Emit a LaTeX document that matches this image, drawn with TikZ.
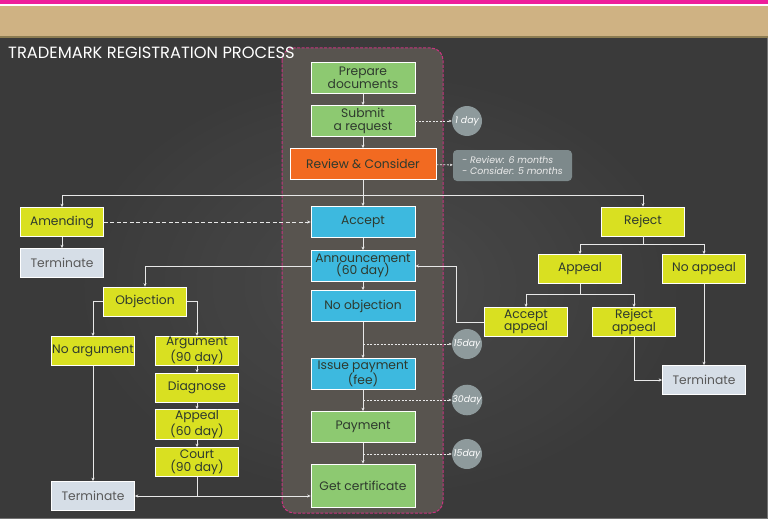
\documentclass[tikz,border=0pt]{standalone}
\usepackage{fontspec}
\setmainfont{Poppins}
\usetikzlibrary{arrows.meta,shadings}

\definecolor{bandpink}{HTML}{EE1E9B}
\definecolor{bandtan}{HTML}{CFB283}
\definecolor{bandrule}{HTML}{8C7C52}
\definecolor{board}{HTML}{3A3A3A}
\definecolor{boardlight}{HTML}{4E4E4E}
\definecolor{lane}{HTML}{58544F}
\definecolor{laneedge}{HTML}{C8337F}
\definecolor{boxgreen}{HTML}{8DC971}
\definecolor{boxorange}{HTML}{F26A21}
\definecolor{boxblue}{HTML}{3DB9DF}
\definecolor{boxyellow}{HTML}{D9E021}
\definecolor{boxgrey}{HTML}{D6DEE7}
\definecolor{boxtext}{HTML}{2E3A2E}
\definecolor{dotgrey}{HTML}{8E9A9C}
\definecolor{notegrey}{HTML}{7D898B}
\definecolor{linkwhite}{HTML}{E8E8E8}

\tikzset{
  box/.style={draw=white, line width=0.7pt, minimum width=83pt, minimum height=29pt,
    inner sep=1pt, align=center, text=boxtext, font=\fontsize{12.3}{12.5}\selectfont},
  widebox/.style={box, minimum width=104pt, minimum height=31pt},
  greenbox/.style={widebox, fill=boxgreen},
  bluebox/.style={widebox, fill=boxblue},
  yellowbox/.style={box, fill=boxyellow},
  endbox/.style={box, fill=boxgrey, text=black!65},
  daydot/.style={circle, fill=dotgrey, minimum size=30pt, inner sep=0pt, text=white,
    font=\fontsize{9.3}{9}\selectfont\itshape},
  link/.style={-{Stealth[length=3.5pt,width=3pt]}, draw=linkwhite, line width=0.8pt},
  timelink/.style={-{Stealth[length=3pt,width=2.5pt]}, draw=linkwhite, line width=0.8pt,
    dash pattern=on 2pt off 1.5pt},
  amendlink/.style={link, dash pattern=on 4pt off 2.5pt},
}

\begin{document}
\begin{tikzpicture}[x=1pt, y=-1pt]
\def \midx {363}
\def \dayx {467}

%Background and top bands
\useasboundingbox (0,0) rectangle (768,519);
\fill[board] (0,38) rectangle (768,519);
\shade[inner color=boardlight, outer color=board, opacity=0.8] (60,60) rectangle (700,510);
\draw[black!55, line width=1pt] (0,518) -- (768,518);
\draw[black!55, line width=1pt] (767,38) -- (767,519);
\fill[bandpink] (0,0) rectangle (768,4);
\fill[white] (0,4) rectangle (768,6);
\fill[bandtan] (0,6) rectangle (768,36);
\fill[bandrule] (0,36) rectangle (768,38.5);

%Main lane
\draw[fill=lane, draw=laneedge, line width=1pt, dash pattern=on 3pt off 1.5pt, rounded corners=12pt] (282,48) rectangle (443,513);

%Title
\node[anchor=west, text=white, font=\fontsize{16.3}{17}\selectfont, inner sep=0pt] (title) at (8,53) {TRADEMARK REGISTRATION PROCESS};

%Main column
\node[greenbox] (prep) at (\midx,78) {Prepare\\documents};
\node[greenbox] (submit) at (\midx,121) {Submit\\a request};
\node[widebox, fill=boxorange, minimum width=146pt] (review) at (\midx,164) {Review \& Consider};
\node[bluebox] (accept) at (\midx,222) {Accept};
\node[bluebox] (announce) at (\midx,266) {Announcement\\(60 day)};
\node[bluebox] (noobj) at (\midx,306) {No objection};
\node[bluebox] (issue) at (\midx,374) {Issue payment\\(fee)};
\node[greenbox] (payment) at (\midx,427) {Payment};
\node[greenbox, minimum height=43pt] (cert) at (\midx,485.5) {Get certificate};

%Time marks
\node[daydot] (day1) at (\dayx,121) {1 day};
\node[daydot] (day15a) at (\dayx,344) {15day};
\node[daydot] (day30) at (\dayx,400) {30day};
\node[daydot] (day15b) at (\dayx,454) {15day};
\node[fill=notegrey, rounded corners=4pt, minimum width=119pt, minimum height=31pt, inner sep=2pt,
  align=left, text=white!92!black, font=\fontsize{9.4}{11}\selectfont\itshape] (note) at (512.5,165.5)
  {- Review: 6 months\\- Consider: 5 months};

%Left branch
\node[yellowbox] (amend) at (62,222) {Amending};
\node[endbox] (termA) at (62,263) {Terminate};
\node[yellowbox] (objection) at (145,301.5) {Objection};
\node[yellowbox] (noarg) at (93,351) {No argument};
\node[yellowbox] (argue) at (197,351) {Argument\\(90 day)};
\node[yellowbox] (diag) at (197,387.5) {Diagnose};
\node[yellowbox] (appealA) at (197,424.5) {Appeal\\(60 day)};
\node[yellowbox] (court) at (197,462) {Court\\(90 day)};
\node[endbox] (termB) at (93,496) {Terminate};

%Right branch
\node[yellowbox] (reject) at (643,221.5) {Reject};
\node[yellowbox] (appealR) at (580,269) {Appeal};
\node[yellowbox] (noappeal) at (704,269) {No appeal};
\node[yellowbox] (accappeal) at (526,322) {Accept\\appeal};
\node[yellowbox] (rejappeal) at (634,322) {Reject\\appeal};
\node[endbox] (termC) at (704,380) {Terminate};

%Split points
\coordinate (rsplit) at (\midx,195);
\coordinate (jsplit) at (643,244);
\coordinate (asplit) at (580,294);

%Main flow
\draw[link] (prep) -- (submit);
\draw[link] (submit) -- (review);
\draw[link] (review) -- (accept);
\draw[link] (accept) -- (announce);
\draw[link] (announce) -- (noobj);
\draw[link] (noobj) -- (issue);
\draw[link] (issue) -- (payment);
\draw[link] (payment) -- (cert);
\draw[timelink] (submit) -- (day1);
\draw[timelink] (review) -- (note);
\draw[timelink] (noobj.south |- day15a) -- (day15a);
\draw[timelink] (issue.south |- day30) -- (day30);
\draw[timelink] (payment.south |- day15b) -- (day15b);

%Review result
\draw[link] (rsplit) -| (amend);
\draw[link] (rsplit) -| (reject);
\draw[link] (amend) -- (termA);
\draw[amendlink] (amend) -- (accept);

%Objection
\draw[link] (announce) -| (objection);
\draw[link] (objection.west) -| (noarg);
\draw[link] (objection.east) -| (argue);
\draw[link] (argue) -- (diag);
\draw[link] (diag) -- (appealA);
\draw[link] (appealA) -- (court);
\draw[link] (noarg) -- (termB);
\draw[link] (court.south) |- (termB);
\draw[link] (court.south) |- (cert.west |- termB);

%Rejection
\draw[draw=linkwhite, line width=0.8pt] (reject) -- (jsplit);
\draw[link] (jsplit) -| (appealR);
\draw[link] (jsplit) -| (noappeal);
\draw[draw=linkwhite, line width=0.8pt] (appealR) -- (asplit);
\draw[link] (asplit) -| (accappeal);
\draw[link] (asplit) -| (rejappeal);
\draw[link] (accappeal.west) -- ++(-28,0) |- (announce.east);
\draw[link] (rejappeal.south) |- (termC);
\draw[link] (noappeal) -- (termC);

\end{tikzpicture}
\end{document}
